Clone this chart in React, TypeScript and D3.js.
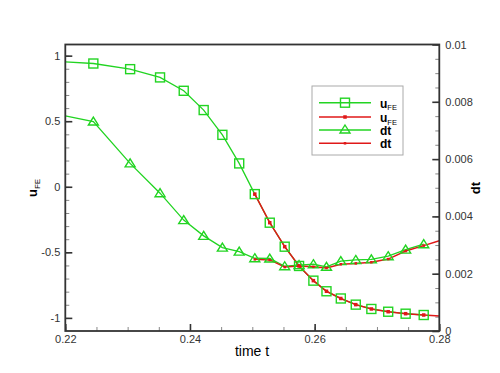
import * as d3 from 'd3';
import * as React from 'react';

// coarse run (green): time, solution and step size
const timeGreen = [0.22, 0.2245, 0.2304, 0.2352, 0.2390, 0.2422, 0.2452, 0.2479, 0.2504, 0.2528,
    0.2552, 0.2575, 0.2598, 0.2619, 0.2642, 0.2666, 0.2691, 0.2718, 0.2746, 0.2775];
const uGreen = [0.953, 0.940, 0.897, 0.834, 0.732, 0.585, 0.396, 0.178, -0.056, -0.274,
    -0.457, -0.604, -0.716, -0.797, -0.852, -0.899, -0.932, -0.953, -0.968, -0.978];
const dtGreen = [0.00751, 0.00731, 0.00585, 0.00481, 0.00387, 0.00332, 0.00291, 0.00277, 0.00254, 0.00253,
    0.00226, 0.00230, 0.00233, 0.00224, 0.00244, 0.00248, 0.00250, 0.00261, 0.00284, 0.00303];

// fine run (red)
const timeRed = [0.2504, 0.2528, 0.2552, 0.2575, 0.2598, 0.2619, 0.2642, 0.2666, 0.2691, 0.2718,
    0.2746, 0.2775, 0.28];
const uRed = [-0.056, -0.274, -0.457, -0.604, -0.716, -0.797, -0.852, -0.899, -0.932, -0.953,
    -0.968, -0.978, -0.986];
const dtRed = [0.00250, 0.00248, 0.00223, 0.00227, 0.00224, 0.00220, 0.00233, 0.00236, 0.00240, 0.00251,
    0.00279, 0.00298, 0.00315];

const xTicks = [0.22, 0.24, 0.26, 0.28];
const uTicks = [-1, -0.5, 0, 0.5, 1];
const dtTicks = [0, 0.002, 0.004, 0.006, 0.008, 0.01];

const green = '#22d422';
const red = '#e01818';
const font = '"Liberation Sans", Arial, Helvetica, sans-serif';

const left = 65.3;
const right = 439.3;
const top = 44.5;
const bottom = 331;

export default function App() {
    const gRef = React.useRef<SVGGElement | null>(null);

    const x = d3.scaleLinear().domain([0.22, 0.28]).range([left, right]);
    const yU = d3.scaleLinear().domain([-1.1, 1.085]).range([bottom, top]);
    const yDt = d3.scaleLinear().domain([0, 0.01]).range([bottom, top]);

    React.useEffect(() => {
        if (!gRef.current) return;
        const g = d3.select(gRef.current);
        g.selectAll('*').remove();

        const styleAxis = (sel: d3.Selection<SVGGElement, unknown, null, undefined>, major: boolean) => {
            sel.select('.domain').remove();
            sel.selectAll('line')
                .attr('stroke', major ? '#333' : '#888')
                .attr('stroke-width', major ? 1.6 : 1);
            sel.selectAll('text')
                .attr('fill', '#333')
                .style('font-family', font)
                .style('font-size', '11px');
        };

        // minor ticks
        g.append('g').attr('transform', `translate(0,${bottom})`)
            .call(d3.axisBottom(x).tickValues(d3.range(0, 13).map(i => 0.22 + i * 0.005)).tickSize(-4).tickFormat(() => ''))
            .call(s => styleAxis(s, false));
        g.append('g').attr('transform', `translate(${left},0)`)
            .call(d3.axisLeft(yU).tickValues(d3.range(0, 21).map(i => -1 + i * 0.1)).tickSize(-4).tickFormat(() => ''))
            .call(s => styleAxis(s, false));
        g.append('g').attr('transform', `translate(${right},0)`)
            .call(d3.axisRight(yDt).tickValues(d3.range(0, 21).map(i => i * 0.0005)).tickSize(-4).tickFormat(() => ''))
            .call(s => styleAxis(s, false));

        // major ticks + labels
        g.append('g').attr('transform', `translate(0,${bottom})`)
            .call(d3.axisBottom(x).tickValues(xTicks).tickSize(-7).tickPadding(4).tickFormat(d3.format('.2f')))
            .call(s => styleAxis(s, true));
        g.append('g').attr('transform', `translate(${left},0)`)
            .call(d3.axisLeft(yU).tickValues(uTicks).tickSize(-7).tickPadding(5).tickFormat(d => `${d}`))
            .call(s => styleAxis(s, true));
        g.append('g').attr('transform', `translate(${right},0)`)
            .call(d3.axisRight(yDt).tickValues(dtTicks).tickSize(-7).tickPadding(6).tickFormat(d => `${d}`))
            .call(s => styleAxis(s, true));
    }, []);

    const lineU = d3.line<number>().x((_, i) => x(timeGreen[i])).y(d => yU(d));
    const lineDt = d3.line<number>().x((_, i) => x(timeGreen[i])).y(d => yDt(d));
    const lineURed = d3.line<number>().x((_, i) => x(timeRed[i])).y(d => yU(d));
    const lineDtRed = d3.line<number>().x((_, i) => x(timeRed[i])).y(d => yDt(d));

    const tri = 'M0,-4.5L5,3.5L-5,3.5Z';

    const legendRows = [
        { y: 102.7, color: green, marker: 'square', label: 'u' },
        { y: 117, color: red, marker: 'dot', label: 'u' },
        { y: 130, color: green, marker: 'tri', label: 'dt' },
        { y: 143.3, color: red, marker: 'dotSmall', label: 'dt' },
    ];

    return (
        <svg width={500} height={373} style={{ position: 'absolute', left: 0, top: 0, background: '#fff' }}>
            <rect x={0} y={0} width={500} height={373} fill="#fff" />
            <defs>
                <clipPath id="plotClip">
                    <rect x={left} y={top} width={right - left} height={bottom - top} />
                </clipPath>
            </defs>
            <g ref={gRef} />
            <g clipPath="url(#plotClip)">
                <path d={lineU(uGreen) || ''} fill="none" stroke={green} strokeWidth={1.3} />
                <path d={lineDt(dtGreen) || ''} fill="none" stroke={green} strokeWidth={1.3} />
                <path d={lineURed(uRed) || ''} fill="none" stroke={red} strokeWidth={1.5} />
                <path d={lineDtRed(dtRed) || ''} fill="none" stroke={red} strokeWidth={1.5} />
                {uGreen.map((d, i) => i === 0 ? null : (
                    <rect key={`s${i}`} x={x(timeGreen[i]) - 4.5} y={yU(d) - 4.5} width={9} height={9}
                        fill="none" stroke={green} strokeWidth={1.4} />
                ))}
                {dtGreen.map((d, i) => i === 0 ? null : (
                    <path key={`t${i}`} d={tri} transform={`translate(${x(timeGreen[i])},${yDt(d)})`}
                        fill="none" stroke={green} strokeWidth={1.4} />
                ))}
                {uRed.slice(0, -1).map((d, i) => (
                    <rect key={`ru${i}`} x={x(timeRed[i]) - 1.75} y={yU(d) - 1.75} width={3.5} height={3.5} fill={red} />
                ))}
                {dtRed.slice(0, -1).map((d, i) => (
                    <rect key={`rd${i}`} x={x(timeRed[i]) - 1.25} y={yDt(d) - 1.25} width={2.5} height={2.5} fill={red} />
                ))}
            </g>
            <rect x={left} y={top} width={right - left} height={bottom - top} fill="none" stroke="#333" strokeWidth={1.8} />

            <text x={252} y={356} textAnchor="middle" fontFamily={font} fontSize={14} fill="#000">time t</text>
            <text transform="translate(36.5,197) rotate(-90)" fontFamily={font} fill="#000">
                <tspan fontSize={13} fontWeight="bold">u</tspan>
                <tspan fontSize={8} dy={3.3}>FE</tspan>
            </text>
            <text transform="translate(480,188) rotate(-90)" textAnchor="middle" fontFamily={font}
                fontSize={13} fontWeight="bold" fill="#000">dt</text>

            <rect x={312} y={86} width={91} height={69} fill="#fff" stroke="#aaa" strokeWidth={1} />
            {legendRows.map((r, i) => (
                <g key={`l${i}`}>
                    <line x1={319} x2={371} y1={r.y} y2={r.y} stroke={r.color} strokeWidth={1.5} />
                    {r.marker === 'square' && (
                        <rect x={340.5} y={r.y - 4.5} width={9} height={9} fill="none" stroke={green} strokeWidth={1.4} />
                    )}
                    {r.marker === 'tri' && (
                        <path d={tri} transform={`translate(345,${r.y - 0.5})`} fill="none" stroke={green} strokeWidth={1.4} />
                    )}
                    {r.marker === 'dot' && <rect x={343.25} y={r.y - 1.75} width={3.5} height={3.5} fill={red} />}
                    {r.marker === 'dotSmall' && <rect x={343.75} y={r.y - 1.25} width={2.5} height={2.5} fill={red} />}
                    <text x={380} y={r.y + 5} fontFamily={font} fill="#000">
                        <tspan fontSize={12} fontWeight="bold">{r.label}</tspan>
                        {r.label === 'u' && <tspan fontSize={7.5} dy={2.5}>FE</tspan>}
                    </text>
                </g>
            ))}
        </svg>
    );
}
